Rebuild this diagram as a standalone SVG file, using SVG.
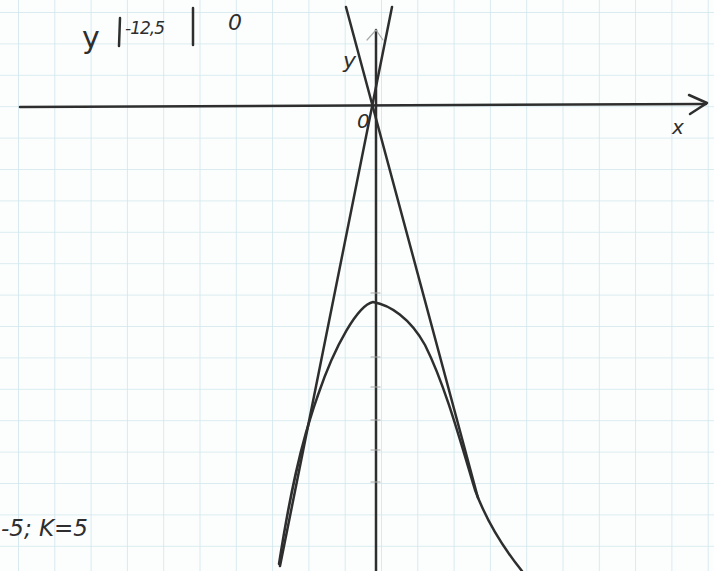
<svg xmlns="http://www.w3.org/2000/svg" width="714" height="571" viewBox="0 0 714 571">
<defs>
<pattern id="grid" patternUnits="userSpaceOnUse" x="18" y="12" width="36.3" height="31.4">
<path d="M0,0 V31.4 M0,0 H36.3" fill="none" stroke="#cfe6ec" stroke-width="1.6"/>
</pattern>
<style>
.pen{fill:none;stroke:#2e2e2e;stroke-width:2.5;stroke-linecap:round;stroke-linejoin:round}
.faint{fill:none;stroke:#a8a8a8;stroke-width:1.2;stroke-linecap:round}
.hand{font-family:"DejaVu Sans",sans-serif;fill:#2e2e2e;font-style:italic}
</style>
</defs>
<rect width="714" height="571" fill="#fcfefe"/>
<rect width="714" height="571" fill="url(#grid)"/>
<g id="table">
<text class="hand" x="82" y="48" font-size="30" style="font-style:normal">y</text>
<path class="pen" d="M120,18 L119,46"/>
<text class="hand" x="125" y="34" font-size="17" letter-spacing="-1">-12,5</text>
<path class="pen" d="M193,8 L193,45"/>
<text class="hand" x="228" y="30" font-size="22">0</text>
</g>
<g id="axes">
<path class="pen" d="M20,107 L706,104"/>
<path class="pen" d="M689,95 L707,103 L690,114"/>
<path class="pen" d="M376,30 L376,571"/>
<path class="faint" d="M367,40 L376,30 L383,40"/>
<text class="hand" x="343" y="68" font-size="22">y</text>
<text class="hand" x="357" y="128" font-size="20">0</text>
<text class="hand" x="672" y="134" font-size="20">x</text>
<path class="faint" d="M371,357 H380 M371,387 H380 M371,420 H380 M371,450 H380 M371,482 H380 M371,293 H380"/>
</g>
<g id="lines">
<path class="pen" d="M392,7 L280,566"/>
<path class="pen" d="M346,7 L478,498"/>
</g>
<g id="parabola">
<path class="pen" d="M279,564 C289,500 300,445 318,395 C335,345 358,305 373,302 C390,305 410,318 425,345 C445,385 460,440 475,490 C488,525 505,550 522,571"/>
</g>
<g id="note">
<text class="hand" x="1" y="536" font-size="23">-5; K=5</text>
</g>
</svg>
